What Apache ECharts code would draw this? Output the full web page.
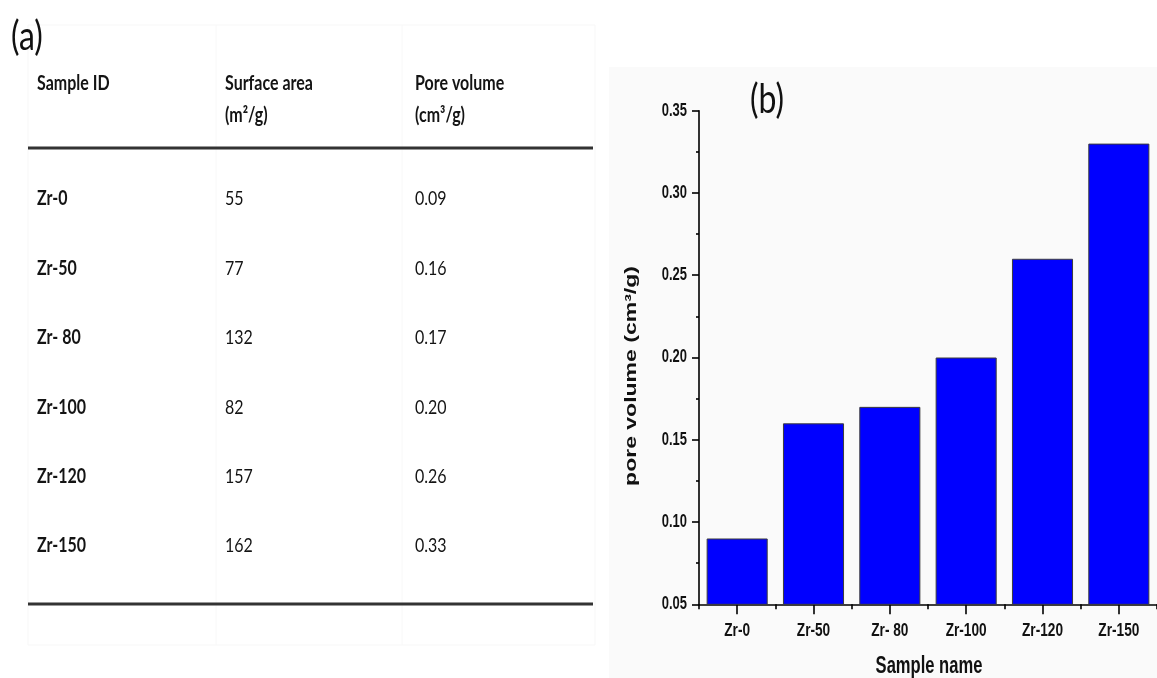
<!DOCTYPE html>
<html>
<head>
<meta charset="utf-8">
<title>Zr samples: surface area and pore volume</title>
<script src="https://cdn.jsdelivr.net/npm/echarts@6/dist/echarts.min.js"></script>
<style>
  html, body { margin: 0; padding: 0; background: #ffffff; }
  #main { width: 1157px; height: 678px; }
</style>
</head>
<body>
<div id="main"></div>
<script>
// ---- data ----
const samples = ['Zr-0', 'Zr-50', 'Zr- 80', 'Zr-100', 'Zr-120', 'Zr-150'];
const surfaceArea = [55, 77, 132, 82, 157, 162];          // m²/g
const poreVolume = [0.09, 0.16, 0.17, 0.20, 0.26, 0.33];  // cm³/g
const yTicks = [0.05, 0.10, 0.15, 0.20, 0.25, 0.30, 0.35];
const headerLine1 = ['Sample ID', 'Surface area', 'Pore volume'];
const headerLine2 = ['', '(m²/g)', '(cm³/g)'];
const xAxisName = 'Sample name';
const yAxisName = 'pore volume (cm³/g)';

// ---- layout ----
const plot = { left: 699, top: 110.7, width: 468, height: 493.6 };
const colX = [37, 225, 415];
const chartFont = '"Liberation Sans", Arial, sans-serif';
const tableFont = 'Lato, "Open Sans", sans-serif';
const squeeze = 0.72;       // narrow lettering of panel (b)
const tableSqueeze = 0.8;   // narrow lettering of panel (a)

const chart = echarts.init(document.getElementById('main'), null, { renderer: 'canvas' });

chart.setOption({
  animation: false,
  backgroundColor: '#ffffff',
  grid: { left: plot.left, top: plot.top, width: plot.width, height: plot.height, containLabel: false },
  xAxis: [
    {
      type: 'category',
      data: samples,
      boundaryGap: true,
      axisLine: { show: true, lineStyle: { color: '#000', width: 1.6 } },
      axisTick: { show: true, alignWithLabel: true, length: 10, lineStyle: { color: '#000', width: 1.6 } },
      axisLabel: { show: false },
      splitLine: { show: false }
    },
    {
      type: 'category',
      data: samples,
      position: 'bottom',
      boundaryGap: true,
      axisLine: { show: false },
      axisTick: { show: true, alignWithLabel: false, length: 5, lineStyle: { color: '#000', width: 1.6 } },
      axisLabel: { show: false },
      splitLine: { show: false }
    }
  ],
  yAxis: {
    type: 'value',
    min: 0.05,
    max: 0.35,
    interval: 0.05,
    axisLine: { show: true, lineStyle: { color: '#000', width: 1.6 } },
    axisTick: { show: true, length: 7, lineStyle: { color: '#000', width: 1.6 } },
    minorTick: { show: true, splitNumber: 2, length: 3, lineStyle: { color: '#000', width: 1.6 } },
    axisLabel: { show: false },
    splitLine: { show: false }
  },
  series: [{
    type: 'bar',
    data: poreVolume,
    xAxisIndex: 0,
    yAxisIndex: 0,
    barCategoryGap: '20%',
    itemStyle: { color: '#0000ff', borderColor: '#3c3c3c', borderWidth: 1 }
  }]
});

// ---- text and table drawn as graphic elements ----
function chartText(text, x, y, size, align, extra) {
  return Object.assign({
    type: 'text', x: x, y: y, scaleX: squeeze, silent: true, z: 10,
    style: { text: text, fontFamily: chartFont, fontWeight: 'bold', fontSize: size,
             fill: '#111', align: align, verticalAlign: 'middle' }
  }, extra || {});
}
function tableText(text, x, y, bold) {
  return {
    type: 'text', x: x, y: y, scaleX: tableSqueeze, silent: true, z: 10,
    style: { text: text, fontFamily: tableFont, fontWeight: bold ? 'bold' : 'normal', fontSize: 20,
             fill: '#141414', align: 'left', verticalAlign: 'middle' }
  };
}

const g = [];

// panel backgrounds
g.push({ type: 'rect', z: -100, silent: true, shape: { x: 609, y: 67, width: 548, height: 611 },
         style: { fill: '#fafafa' } });
g.push({ type: 'rect', z: -100, silent: true, shape: { x: 28, y: 25, width: 567, height: 620 },
         style: { fill: 'none', stroke: '#f7f7f7', lineWidth: 1 } });
[216, 402].forEach(function (vx) {
  g.push({ type: 'line', z: -100, silent: true, shape: { x1: vx, y1: 25, x2: vx, y2: 645 },
           style: { stroke: '#f8f8f8', lineWidth: 1 } });
});

// panel letters
g.push({ type: 'text', x: 27, y: 37, scaleX: 0.8, silent: true,
         style: { text: '(a)', fontFamily: tableFont, fontSize: 40, fill: '#111', align: 'center', verticalAlign: 'middle' } });
g.push({ type: 'text', x: 767, y: 100, scaleX: 0.8, silent: true,
         style: { text: '(b)', fontFamily: tableFont, fontSize: 40, fill: '#111', align: 'center', verticalAlign: 'middle' } });

// table header
headerLine1.forEach(function (t, i) { g.push(tableText(t, colX[i], 84, true)); });
headerLine2.forEach(function (t, i) { if (t) g.push(tableText(t, colX[i], 116, true)); });
g.push({ type: 'line', silent: true, shape: { x1: 28, y1: 148, x2: 593, y2: 148 },
         style: { stroke: '#333', lineWidth: 3 } });

// table body
const rowY0 = 199, rowStep = 69.4;
samples.forEach(function (s, i) {
  const y = rowY0 + i * rowStep;
  g.push(tableText(s, colX[0], y, true));
  g.push(tableText(String(surfaceArea[i]), colX[1], y, false));
  g.push(tableText(poreVolume[i].toFixed(2), colX[2], y, false));
});
g.push({ type: 'line', silent: true, shape: { x1: 28, y1: 604, x2: 593, y2: 604 },
         style: { stroke: '#333', lineWidth: 3 } });

// axis tick labels placed through the axis scales
yTicks.forEach(function (v) {
  const py = chart.convertToPixel({ yAxisIndex: 0 }, v);
  g.push(chartText(v.toFixed(2), plot.left - 12, py, 18, 'right'));
});
samples.forEach(function (s, i) {
  const px = chart.convertToPixel({ xAxisIndex: 0 }, s);
  g.push(chartText(s, px, plot.top + plot.height + 26, 19, 'center'));
});

// axis names
g.push(chartText(xAxisName, 929, 667, 23, 'center'));
g.push(chartText(yAxisName, 631, 376, 23, 'center', { rotation: Math.PI / 2, scaleX: 1, scaleY: squeeze }));

chart.setOption({ graphic: g });
</script>
</body>
</html>
